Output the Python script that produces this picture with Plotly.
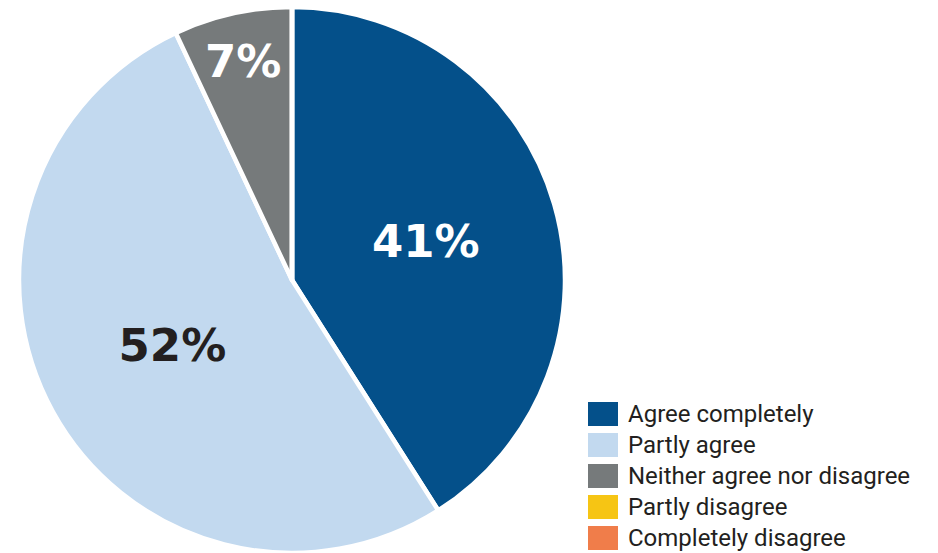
import plotly.graph_objects as go

labels = ["Agree completely", "Partly agree", "Neither agree nor disagree",
          "Partly disagree", "Completely disagree"]
values = [41, 52, 7, 0, 0]
colors = ["#04508A", "#C2D9EF", "#767A7B", "#F6C514", "#F07D4A"]
text_colors = ["#FFFFFF", "#231F20", "#FFFFFF", "#FFFFFF", "#FFFFFF"]

W, H = 938, 553
texts = [f"{v}%" if v else "" for v in values]

fig = go.Figure(go.Pie(
    labels=labels, values=values, sort=False, direction="clockwise", rotation=0,
    marker=dict(colors=colors, line=dict(color="white", width=4.5)),
    text=texts, textinfo="text", textposition="inside",
    insidetextorientation="horizontal",
    insidetextfont=dict(family="DejaVu Sans", size=45, color=text_colors, weight="bold"),
    domain=dict(x=[19 / W, 565 / W], y=[0, 1 - 7 / H]),
    showlegend=False, hoverinfo="label+percent",
))

# custom legend
top = 402
step = 31
for i, (lab, col) in enumerate(zip(labels, colors)):
    y0 = top + i * step
    fig.add_shape(type="rect", xref="paper", yref="paper",
                  x0=588 / W, x1=618 / W, y0=1 - (y0 + 24) / H, y1=1 - y0 / H,
                  fillcolor=col, line=dict(width=0))
    fig.add_annotation(xref="paper", yref="paper", x=626 / W, y=1 - (y0 + 12) / H,
                       text=lab, showarrow=False, xanchor="left", yanchor="middle",
                       font=dict(family="Roboto", size=24, color="#231F20"))

fig.update_layout(
    width=W, height=H, margin=dict(l=0, r=0, t=0, b=0),
    paper_bgcolor="white", plot_bgcolor="white",
)
fig.write_html("out.html", config={"displayModeBar": False},
               post_script="document.body.style.margin='0';document.body.style.overflow='hidden';")
